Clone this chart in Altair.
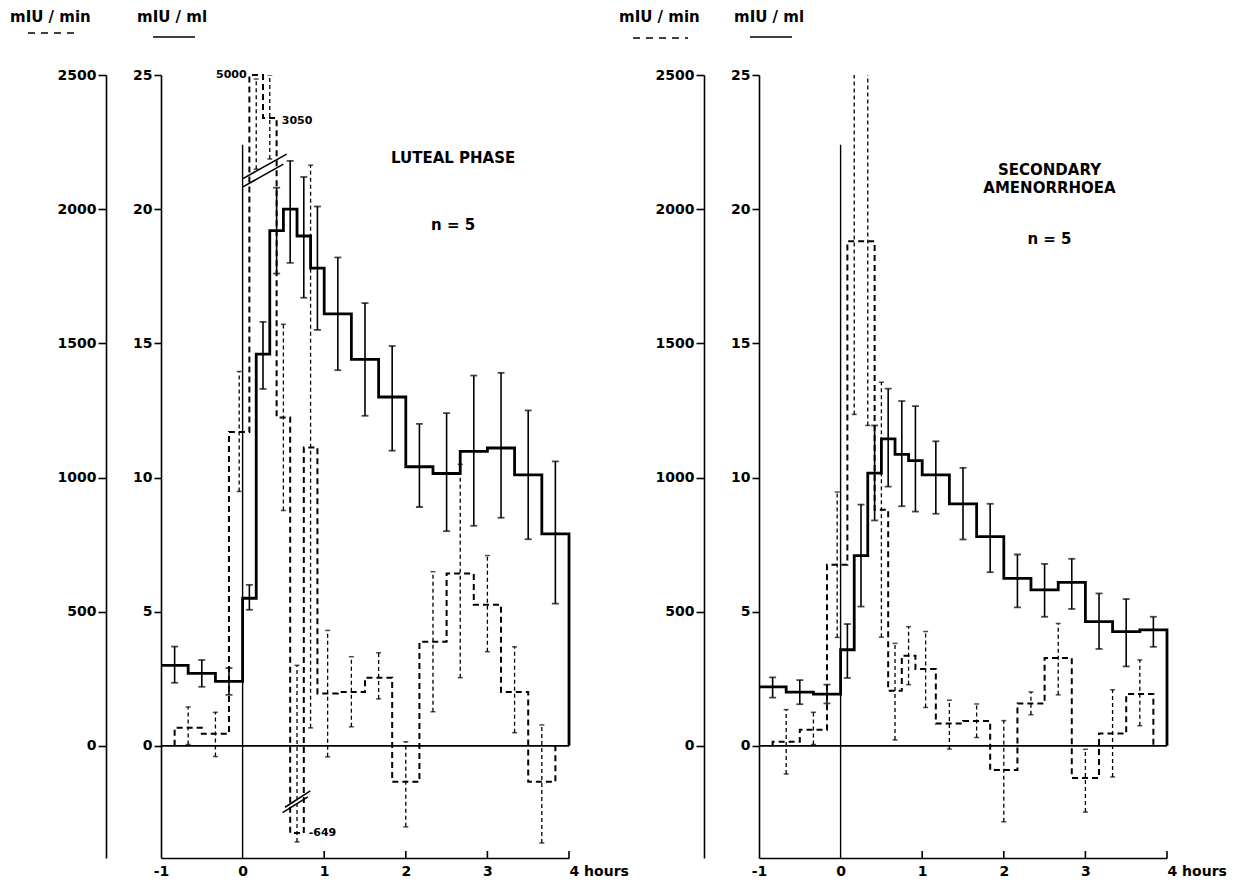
import altair as alt
import pandas as pd

W, H = 408, 783
FONT = "DejaVu Sans"

# ---------------- time grid (hours) ----------------
conc_starts = [-1.0, -0.667, -0.333, 0.0, 0.167, 0.333, 0.5, 0.667, 0.833,
               1.0, 1.333, 1.667, 2.0, 2.333, 2.667, 3.0, 3.333, 3.667]
conc_mid = [-0.833, -0.5, -0.167, 0.083, 0.25, 0.417, 0.583, 0.75, 0.917,
            1.167, 1.5, 1.833, 2.167, 2.5, 2.833, 3.167, 3.5, 3.833]
conc_end = 4.0
rate_starts = [-0.833, -0.5, -0.167, 0.083, 0.25, 0.417, 0.583, 0.75, 0.917,
               1.167, 1.5, 1.833, 2.167, 2.5, 2.833, 3.167, 3.5]
rate_mid = [-0.667, -0.333, -0.042, 0.167, 0.333, 0.5, 0.667, 0.833, 1.042,
            1.333, 1.667, 2.0, 2.333, 2.667, 3.0, 3.333, 3.667]
rate_end = 3.833
hour_ticks = [1, 2, 3, 4]

# ---------------- LUTEAL PHASE ----------------
luteal_conc = [3.0, 2.7, 2.4, 5.5, 14.6, 19.2, 20.0, 19.0, 17.8,
               16.1, 14.4, 13.0, 10.4, 10.15, 10.97, 11.1, 10.1, 7.9]
luteal_conc_lo = [2.35, 2.2, 1.9, 5.07, 13.3, 17.6, 18.0, 16.7, 15.5,
                  14.0, 12.3, 11.0, 8.9, 8.0, 8.2, 8.5, 7.7, 5.3]
luteal_conc_hi = [3.7, 3.2, 2.9, 6.0, 15.8, 20.8, 21.8, 21.2, 20.1,
                  18.2, 16.5, 14.9, 12.0, 12.4, 13.8, 13.9, 12.5, 10.6]
# plotted positions (scale broken above ~2100 and below ~-200 mIU/min)
luteal_rate = [67, 45, 1170, 2500, 2340, 1224, -325, 1112, 195,
               201, 254, -134, 388, 642, 526, 201, -134]
luteal_rate_lo = [5, -40, 948, 2149, 2187, 877, -358, 67, -41,
                  71, 175, -302, 127, 254, 351, 49, -362]
luteal_rate_hi = [145, 125, 1395, 2485, 2500, 1571, 300, 2164, 430,
                  332, 347, 15, 649, 1049, 709, 369, 78]
luteal_value_t = [0.05, 0.48]
luteal_value_v = [2500, 2330]
luteal_value_txt = ["5000", "3050"]
luteal_low_t = [0.81]
luteal_low_v = [-325]
luteal_low_txt = ["-649"]
luteal_break_t = [0.004, 0.004, 0.49, 0.52]
luteal_break_t2 = [0.54, 0.50, 0.80, 0.83]
luteal_break_v = [2114, 2083, -249, -229]
luteal_break_v2 = [2205, 2168, -190, -168]
luteal_note_t = [2.58, 2.58]
luteal_note_v = [21.9, 19.4]
luteal_note_txt = ["LUTEAL  PHASE", "n = 5"]

# ---------------- SECONDARY AMENORRHOEA ----------------
amen_conc = [2.2, 2.0, 1.93, 3.58, 7.09, 10.16, 11.44, 10.86, 10.63,
             10.1, 9.02, 7.8, 6.24, 5.81, 6.09, 4.63, 4.26, 4.32]
amen_conc_lo = [1.8, 1.55, 1.58, 2.53, 5.19, 8.4, 9.66, 8.93, 8.73,
                8.65, 7.69, 6.47, 5.16, 4.81, 5.1, 3.61, 2.96, 3.69]
amen_conc_hi = [2.55, 2.45, 2.28, 4.54, 8.99, 11.94, 13.31, 12.85, 12.66,
                11.35, 10.36, 9.02, 7.13, 6.78, 6.97, 5.68, 5.47, 4.81]
amen_rate = [15, 60, 675, 1880, 1880, 880, 205, 336, 286,
             83, 93, -90, 158, 327, -120, 46, 193]
amen_rate_lo = [-105, 5, 404, 1235, 1194, 405, 22, 228, 143,
                -12, 31, -283, 116, 190, -247, -116, 75]
amen_rate_hi = [135, 125, 946, 2525, 2566, 1355, 382, 444, 426,
                170, 156, 94, 201, 456, -13, 209, 320]
amen_note_t = [2.56, 2.56, 2.56]
amen_note_v = [21.45, 20.8, 18.9]
amen_note_txt = ["SECONDARY", "AMENORRHOEA", "n = 5"]

# ---------------- scales / axes ----------------
xscale = alt.Scale(domain=[-1, 4], nice=False, zero=False)
xaxis = alt.Axis(values=[-1, 0, 1, 2, 3, 4], ticks=False, grid=False, title=None,
                 labelExpr="datum.value == 4 ? '4 hours' : '' + datum.value",
                 labelAlign={"condition": {"test": "datum.value == 4", "value": "left"},
                             "value": "center"},
                 labelFlush=False, labelPadding=6,
                 labelOverlap=False, domainWidth=1.6, domainColor="black",
                 labelFont=FONT, labelFontSize=14, labelFontWeight="bold", labelColor="black")
ml_scale = alt.Scale(domain=[-4.18, 25], nice=False, zero=False)
ml_axis = alt.Axis(orient="left", values=[0, 5, 10, 15, 20, 25], title=None, grid=False,
                   format="d", tickSize=7, tickWidth=1.6, tickColor="black", domainWidth=1.6,
                   domainColor="black", labelPadding=2, labelOverlap=False,
                   labelFont=FONT, labelFontSize=14, labelFontWeight="bold", labelColor="black")
min_scale = alt.Scale(domain=[-418, 2500], nice=False, zero=False)
min_axis = alt.Axis(orient="left", offset=55, values=[0, 500, 1000, 1500, 2000, 2500],
                    format="d", title=None, grid=False, tickSize=8, tickWidth=1.6,
                    tickColor="black", domainWidth=1.6, domainColor="black", labelPadding=2,
                    labelOverlap=False, labelFont=FONT, labelFontSize=14,
                    labelFontWeight="bold", labelColor="black")


def X(field=None, datum=None):
    if datum is not None:
        return alt.X(datum=datum, type="quantitative", scale=xscale, axis=xaxis)
    return alt.X(field, type="quantitative", scale=xscale, axis=xaxis)


def Yml(field=None, datum=None):
    if datum is not None:
        return alt.Y(datum=datum, type="quantitative", scale=ml_scale, axis=ml_axis)
    return alt.Y(field, type="quantitative", scale=ml_scale, axis=ml_axis)


def Ymin(field=None, datum=None):
    if datum is not None:
        return alt.Y(datum=datum, type="quantitative", scale=min_scale, axis=min_axis)
    return alt.Y(field, type="quantitative", scale=min_scale, axis=min_axis)


def step_frame(starts, values, end, from_zero):
    xs = list(starts) + [end, end]
    ys = list(values) + [values[-1], 0]
    if from_zero:
        xs = [starts[0]] + xs
        ys = [0] + ys
    return pd.DataFrame({"t": xs, "v": ys, "i": list(range(len(xs)))})


def header(min_x, ml_x, dash_a, dash_b, dash_y):
    t1 = alt.Chart(pd.DataFrame({"s": ["mIU / min"]})).mark_text(
        align="left", baseline="middle", font=FONT, fontSize=15, fontWeight="bold", color="black"
    ).encode(text="s:N", x=alt.value(min_x), y=alt.value(-58))
    t2 = alt.Chart(pd.DataFrame({"s": ["mIU / ml"]})).mark_text(
        align="left", baseline="middle", font=FONT, fontSize=15, fontWeight="bold", color="black"
    ).encode(text="s:N", x=alt.value(ml_x), y=alt.value(-58))
    d = alt.Chart().mark_rule(color="black", strokeWidth=1.6, strokeDash=[7, 6]).encode(
        x=alt.value(dash_a), x2=alt.value(dash_b), y=alt.value(dash_y))
    s = alt.Chart().mark_rule(color="black", strokeWidth=1.6).encode(
        x=alt.value(ml_x + 16), x2=alt.value(ml_x + 58), y=alt.value(-38))
    return [t1, t2, d, s]


def panel(conc, clo, chi, rate, rlo, rhi, notes, extra_min_layers, head):
    cstep = step_frame(conc_starts, conc, conc_end, False)
    cerr = pd.DataFrame({"t": conc_mid, "lo": clo, "hi": chi})
    rstep = step_frame(rate_starts, rate, rate_end, True)
    rerr = pd.DataFrame({"t": rate_mid, "lo": rlo, "hi": rhi})

    ml_layers = [
        alt.Chart().mark_rule(color="black", strokeWidth=1.6).encode(
            x=X(datum=-1), x2=alt.X2(datum=4), y=Yml(datum=0)),
        alt.Chart().mark_rule(color="black", strokeWidth=1.4).encode(
            x=X(datum=0), y=Yml(datum=22.4), y2=alt.Y2(datum=-4.18)),
        alt.Chart(pd.DataFrame({"t": hour_ticks})).mark_rule(color="black", strokeWidth=1.6).encode(
            x=X("t"), y=alt.value(H), y2=alt.value(H - 7)),
        alt.Chart(cstep).mark_line(interpolate="step-after", color="black", strokeWidth=2.8).encode(
            x=X("t"), y=Yml("v"), order="i:Q"),
        alt.Chart(cerr).mark_rule(color="black", strokeWidth=1.6).encode(
            x=X("t"), y=Yml("lo"), y2="hi"),
        alt.Chart(cerr).mark_tick(color="black", orient="horizontal", size=7, thickness=1.8).encode(
            x=X("t"), y=Yml("lo")),
        alt.Chart(cerr).mark_tick(color="black", orient="horizontal", size=7, thickness=1.8).encode(
            x=X("t"), y=Yml("hi")),
        alt.Chart(notes).mark_text(font=FONT, fontSize=15, fontWeight="bold", color="black",
                                   align="center", baseline="middle").encode(
            x=X("t"), y=Yml("v"), text="s:N"),
    ] + header(*head)

    min_layers = [
        alt.Chart(rstep).mark_line(interpolate="step-after", color="black", strokeWidth=2.0,
                                   strokeDash=[6, 4]).encode(
            x=X("t"), y=Ymin("v"), order="i:Q"),
        alt.Chart(rerr).mark_rule(color="black", strokeWidth=1.3, strokeDash=[4, 3], clip=True).encode(
            x=X("t"), y=Ymin("lo"), y2="hi"),
        alt.Chart(rerr).mark_tick(color="black", orient="horizontal", size=5, thickness=1.5, clip=True).encode(
            x=X("t"), y=Ymin("lo")),
        alt.Chart(rerr).mark_tick(color="black", orient="horizontal", size=5, thickness=1.5, clip=True).encode(
            x=X("t"), y=Ymin("hi")),
    ] + extra_min_layers

    ml_group = alt.layer(*ml_layers)
    min_group = alt.layer(*min_layers)
    return alt.layer(ml_group, min_group).resolve_scale(y="independent").properties(width=W, height=H)


# ---- luteal extras ----
lut_vals = pd.DataFrame({"t": luteal_value_t, "v": luteal_value_v, "s": luteal_value_txt})
lut_low = pd.DataFrame({"t": luteal_low_t, "v": luteal_low_v, "s": luteal_low_txt})
lut_breaks = pd.DataFrame({"t": luteal_break_t, "t2": luteal_break_t2,
                           "v": luteal_break_v, "v2": luteal_break_v2})
lut_extra = [
    alt.Chart(lut_breaks).mark_rule(color="black", strokeWidth=1.6).encode(
        x=X("t"), x2="t2", y=Ymin("v"), y2="v2"),
    alt.Chart(lut_vals.iloc[:1]).mark_text(font=FONT, fontSize=11, fontWeight="bold", color="black",
                                           align="right", baseline="middle").encode(
        x=X("t"), y=Ymin("v"), text="s:N"),
    alt.Chart(lut_vals.iloc[1:]).mark_text(font=FONT, fontSize=11, fontWeight="bold", color="black",
                                           align="left", baseline="middle").encode(
        x=X("t"), y=Ymin("v"), text="s:N"),
    alt.Chart(lut_low).mark_text(font=FONT, fontSize=11, fontWeight="bold", color="black",
                                 align="left", baseline="middle").encode(
        x=X("t"), y=Ymin("v"), text="s:N"),
]

lut_notes = pd.DataFrame({"t": luteal_note_t, "v": luteal_note_v, "s": luteal_note_txt})
amen_notes = pd.DataFrame({"t": amen_note_t, "v": amen_note_v, "s": amen_note_txt})

left = panel(luteal_conc, luteal_conc_lo, luteal_conc_hi, luteal_rate, luteal_rate_lo,
             luteal_rate_hi, lut_notes, lut_extra, (-151, -24, -133, -86, -42))
right = panel(amen_conc, amen_conc_lo, amen_conc_hi, amen_rate, amen_rate_lo,
              amen_rate_hi, amen_notes, [], (-140, -25, -126, -71, -37))

chart = alt.hconcat(left, right, spacing=190, bounds="flush").properties(
    padding={"left": 10, "top": 10, "right": 2, "bottom": 2},
    background="white",
).configure_view(stroke=None, strokeWidth=0)

chart.save("out.html", embed_options={"renderer": "svg", "actions": False})
